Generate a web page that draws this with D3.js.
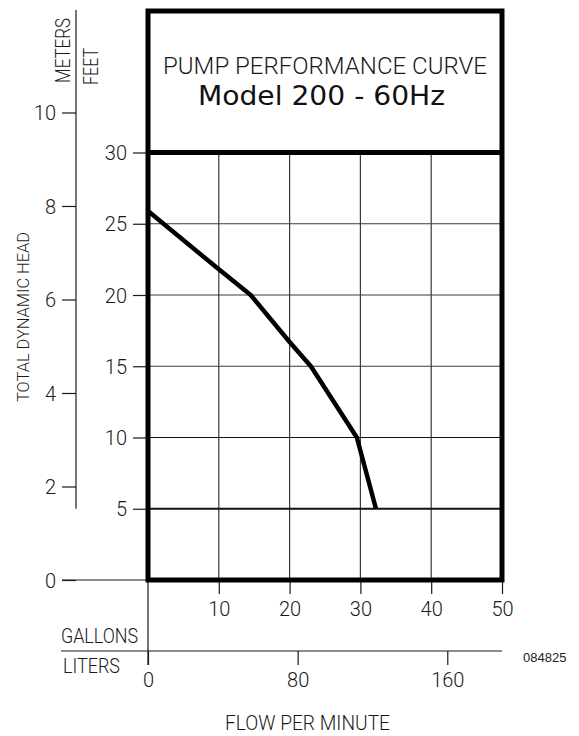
<!DOCTYPE html>
<html>
<head>
<meta charset="utf-8">
<script src="https://cdn.jsdelivr.net/npm/d3@7"></script>
<style>
  html, body { margin: 0; padding: 0; background: #fff; }
  svg { display: block; }
  .cad { font-family: Roboto, "DejaVu Sans", sans-serif; font-weight: 300; fill: #1a1a1a; }
</style>
</head>
<body>
<svg id="chart" width="579" height="736"></svg>
<script>
// ---- data ----
const flowGallons = [0, 10, 14.5, 20, 23, 29.5, 32.2];
const headFeet    = [25.9, 21.8, 20, 16.7, 15, 10, 5];
const feetTicks   = [5, 10, 15, 20, 25, 30];
const meterTicks  = [0, 2, 4, 6, 8, 10];
const gallonTicks = [10, 20, 30, 40, 50];
const literTicks  = [0, 80, 160];
const titleLine1  = "PUMP PERFORMANCE CURVE";
const titleLine2  = "Model 200 - 60Hz";
const docCode     = "084825";

const FT_PER_M = 3.28084, L_PER_GAL = 3.785;

const svg = d3.select("#chart");

// scales
const x = d3.scaleLinear().domain([0, 50]).range([148, 502]);
const y = d3.scaleLinear().domain([0, 30]).range([580, 152.5]);
const yM = d3.scaleLinear().domain([0, 10]).range([y(0), y(10 * FT_PER_M)]);
const xL = d3.scaleLinear().domain([0, 50 * L_PER_GAL]).range([x(0), x(50)]);

function label(t, px, py, size, len, rot, anchor) {
  const el = svg.append("text").attr("class", "cad")
    .attr("font-size", size).text(t)
    .attr("text-anchor", anchor || "start");
  if (rot) el.attr("transform", `translate(${px},${py}) rotate(-90)`);
  else el.attr("x", px).attr("y", py);
  if (len) el.attr("textLength", len).attr("lengthAdjust", "spacingAndGlyphs");
  return el;
}

// grid
const grid = svg.append("g");
grid.selectAll("line.v").data(gallonTicks.slice(0, -1)).join("line")
  .attr("x1", d => x(d)).attr("x2", d => x(d))
  .attr("y1", y(30)).attr("y2", y(0))
  .attr("stroke", "#3a3a3a").attr("stroke-width", 1.2);
grid.selectAll("line.h").data(feetTicks.slice(0, -1)).join("line")
  .attr("x1", x(0)).attr("x2", x(50))
  .attr("y1", d => y(d)).attr("y2", d => y(d))
  .attr("stroke", d => d <= 10 ? "#111" : "#3a3a3a")
  .attr("stroke-width", d => d === 5 ? 2 : 1.2);

// feet axis
const fAx = svg.append("g").attr("transform", `translate(${x(0)},0)`)
  .call(d3.axisLeft(y).tickValues(feetTicks).tickSize(15).tickPadding(6).tickSizeOuter(0));
fAx.select(".domain").remove();
fAx.selectAll("line").attr("stroke", "#1a1a1a").attr("stroke-width", 1.2);
fAx.selectAll("text").attr("class", "cad").attr("font-size", 20).attr("fill", "#1a1a1a").attr("dy", "0.36em");

// meters axis
const mAx = svg.append("g").attr("transform", "translate(76,0)")
  .call(d3.axisLeft(yM).tickValues(meterTicks).tickSize(14).tickPadding(6).tickSizeOuter(0));
mAx.select(".domain").remove();
mAx.selectAll("line").attr("stroke", "#1a1a1a").attr("stroke-width", 1.2);
mAx.selectAll("text").attr("class", "cad").attr("font-size", 20).attr("fill", "#1a1a1a").attr("dy", "0.36em");
svg.append("line").attr("x1", 76).attr("x2", 76).attr("y1", 10).attr("y2", y(5))
  .attr("stroke", "#1a1a1a").attr("stroke-width", 1.2);
svg.append("line").attr("x1", 62).attr("x2", x(0)).attr("y1", y(0)).attr("y2", y(0))
  .attr("stroke", "#1a1a1a").attr("stroke-width", 1.2);

// gallons axis
const gAx = svg.append("g").attr("transform", `translate(0,${y(0)})`)
  .call(d3.axisBottom(x).tickValues(gallonTicks).tickSize(14).tickPadding(8).tickSizeOuter(0));
gAx.select(".domain").remove();
gAx.selectAll("line").attr("stroke", "#1a1a1a").attr("stroke-width", 1.2);
gAx.selectAll("text").attr("class", "cad").attr("font-size", 20).attr("fill", "#1a1a1a");

// liters axis
const lAx = svg.append("g").attr("transform", "translate(0,651)")
  .call(d3.axisBottom(xL).tickValues(literTicks).tickSize(14).tickPadding(8).tickSizeOuter(0));
lAx.select(".domain").remove();
lAx.selectAll("line").attr("stroke", "#1a1a1a").attr("stroke-width", 1.2);
lAx.selectAll("text").attr("class", "cad").attr("font-size", 20).attr("fill", "#1a1a1a");
svg.append("line").attr("x1", 61).attr("x2", x(50)).attr("y1", 651).attr("y2", 651)
  .attr("stroke", "#1a1a1a").attr("stroke-width", 1.2);
svg.append("line").attr("x1", x(0)).attr("x2", x(0)).attr("y1", y(0)).attr("y2", 665)
  .attr("stroke", "#1a1a1a").attr("stroke-width", 1.2);

// curve
svg.append("path")
  .datum(flowGallons.map((g, i) => [g, headFeet[i]]))
  .attr("d", d3.line().x(d => x(d[0])).y(d => y(d[1])))
  .attr("fill", "none").attr("stroke", "#000").attr("stroke-width", 4.5)
  .attr("stroke-linejoin", "round");

// frame
svg.append("rect").attr("x", x(0)).attr("y", 11)
  .attr("width", x(50) - x(0)).attr("height", y(0) - 11)
  .attr("fill", "none").attr("stroke", "#000").attr("stroke-width", 5);
svg.append("line").attr("x1", x(0)).attr("x2", x(50)).attr("y1", y(30)).attr("y2", y(30))
  .attr("stroke", "#000").attr("stroke-width", 5);

// titles
label(titleLine1, 163, 74, 24, 324);
svg.append("text").attr("x", 321.5).attr("y", 105).attr("text-anchor", "middle")
  .attr("font-family", "'DejaVu Sans', Verdana, sans-serif").attr("font-size", 26)
  .attr("textLength", 247).attr("lengthAdjust", "spacingAndGlyphs")
  .attr("fill", "#111").text(titleLine2);

// axis titles
label("METERS", 70, 83, 21, 65, true);
label("FEET", 98, 85, 21, 37, true);
label("TOTAL DYNAMIC HEAD", 29, 402, 16, 170, true);
label("GALLONS", 61, 643, 21, 77);
label("LITERS", 63, 673, 21, 57);
label("FLOW PER MINUTE", 225, 730, 21, 165);
svg.append("text").attr("x", 523).attr("y", 662)
  .attr("font-family", "'Liberation Sans', Arial, sans-serif").attr("font-size", 13)
  .attr("fill", "#222").text(docCode);
</script>
</body>
</html>
